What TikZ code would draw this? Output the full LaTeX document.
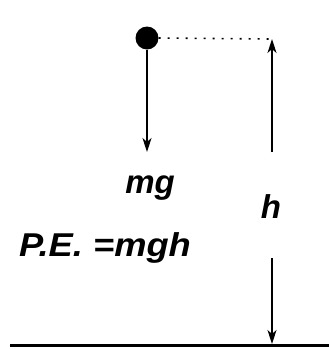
\documentclass[tikz,border=0pt]{standalone}
\usepackage{fontspec}
\setmainfont{Liberation Sans}
\usetikzlibrary{arrows.meta, positioning}

\tikzset{
  lbl/.style={font=\fontsize{33}{38}\selectfont\bfseries\itshape, inner sep=0pt},
  vec/.style={line width=1.5pt, -{Stealth[length=14pt, width=9pt, inset=4pt]}}
}

\begin{document}
\begin{tikzpicture}[x=1pt, y=-1pt]
    % khung hình
    \useasboundingbox (0,0) rectangle (329,349);

    % quả cầu và đường chấm ngang
    \node[circle, fill=black, minimum size=23pt, inner sep=0pt] (ball) at (147,38) {};
    \coordinate (htop) at (272,39);
    \draw[dash pattern=on 2pt off 7pt, line width=1.6pt] (ball.east) -- (htop);

    % mũi tên trọng lực
    \coordinate (mgend) at (147,152);
    \draw[vec] (ball.south) -- (mgend);
    \node[lbl] (mg) at (150,188) {mg};

    % độ cao h
    \coordinate (hup) at (272,152);
    \draw[vec] (hup) -- (htop);
    \node[lbl] (h) at (271,207) {h};
    \coordinate (hdown) at (272,258);
    \coordinate (hfoot) at (272,344);
    \draw[vec] (hdown) -- (hfoot);

    % thế năng
    \node[lbl, xscale=1.1] (pe) at (105,248) {P.E. =mgh};

    % mặt đất
    \coordinate (gl) at (10,345);
    \coordinate (gr) at (329,345);
    \draw[line width=3pt] (gl) -- (gr);
\end{tikzpicture}
\end{document}
